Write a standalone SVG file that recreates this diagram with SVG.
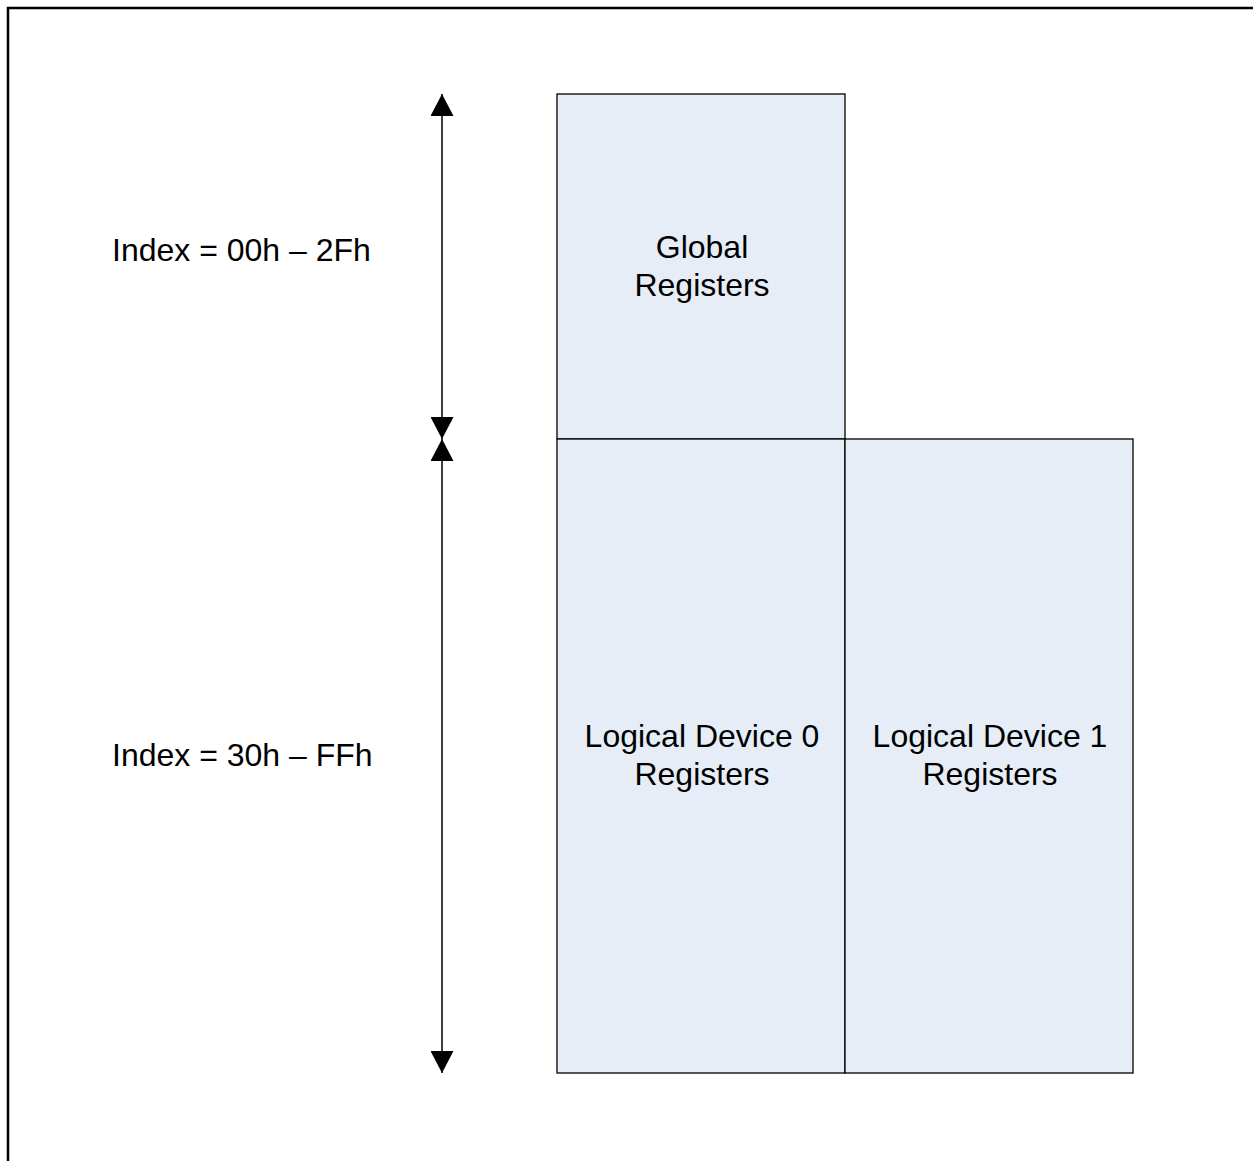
<svg xmlns="http://www.w3.org/2000/svg" width="1253" height="1161" viewBox="0 0 1253 1161">
<style>
.box{fill:#E6EDF7;stroke:#000;stroke-width:1.3}
.t{font-family:"Liberation Sans",Arial,sans-serif;font-size:32px;fill:#000;text-anchor:middle}
.lbl{font-family:"Liberation Sans",Arial,sans-serif;font-size:32px;fill:#000}
.ln{stroke:#000;stroke-width:1.5;fill:none}
</style>
<defs>
<marker id="ah" viewBox="0 0 22 23" refX="22" refY="11.5" markerWidth="22" markerHeight="23" markerUnits="userSpaceOnUse" orient="auto">
<path d="M0,0 L22,11.5 L0,23 Z" fill="#000"/>
</marker>
</defs>
<rect x="8" y="8" width="1300" height="1200" fill="#fff" stroke="#000" stroke-width="2.5"/>
<g id="global">
<rect class="box" x="557" y="94" width="288" height="345"/>
<text class="t" x="702" y="258">Global</text>
<text class="t" x="702" y="296">Registers</text>
</g>
<g id="ld0">
<rect class="box" x="557" y="439" width="288" height="634"/>
<text class="t" x="702" y="747">Logical Device 0</text>
<text class="t" x="702" y="785">Registers</text>
</g>
<g id="ld1">
<rect class="box" x="845" y="439" width="288" height="634"/>
<text class="t" x="990" y="747">Logical Device 1</text>
<text class="t" x="990" y="785">Registers</text>
</g>
<g id="connectors">
<line class="ln" x1="442" y1="266" x2="442" y2="94" marker-end="url(#ah)"/>
<line class="ln" x1="442" y1="266" x2="442" y2="439" marker-end="url(#ah)"/>
<line class="ln" x1="442" y1="756" x2="442" y2="439" marker-end="url(#ah)"/>
<line class="ln" x1="442" y1="756" x2="442" y2="1073" marker-end="url(#ah)"/>
</g>
<g id="labels">
<text class="lbl" x="112" y="261">Index = 00h – 2Fh</text>
<text class="lbl" x="112" y="766">Index = 30h – FFh</text>
</g>
</svg>
